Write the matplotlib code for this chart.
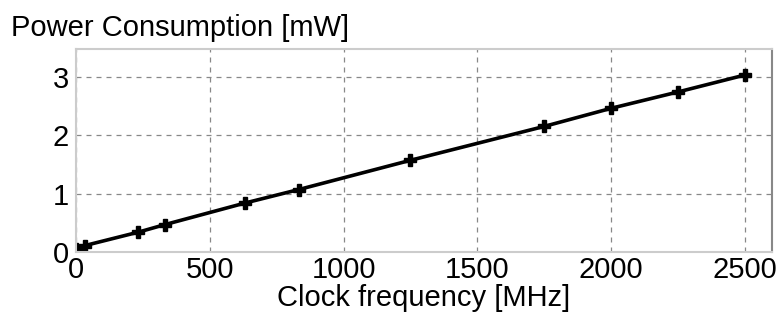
import matplotlib.pyplot as plt
import numpy as np

plt.rcParams['font.family'] = ['Liberation Sans', 'DejaVu Sans']

# clock frequency [MHz] and power consumption [mW]
freq = [0, 33, 233, 333, 633, 833, 1250, 1750, 2000, 2250, 2500]
power = [0.06, 0.11, 0.34, 0.47, 0.84, 1.07, 1.57, 2.15, 2.46, 2.74, 3.03]

fig = plt.figure(figsize=(7.82, 3.25), dpi=100)
ax = fig.add_axes([0.0972, 0.2246, 0.8896, 0.6237])

ax.plot(freq, power, color='black', linewidth=2.6, marker='P', markersize=8)

ax.set_xlim(0, 2600)
ax.set_ylim(0, 3.47)
ax.set_xticks([0, 500, 1000, 1500, 2000, 2500])
ax.set_yticks([0, 1, 2, 3])
ax.grid(True, linestyle=(0, (4, 4)), color='#888888', linewidth=0.9)
ax.tick_params(length=0, labelsize=21, colors='black')
ax.tick_params(axis='x', pad=3)
ax.tick_params(axis='y', pad=5)

for side in ['top', 'left', 'bottom']:
    ax.spines[side].set_color('#cccccc')
    ax.spines[side].set_linewidth(1.5)
ax.spines['right'].set_color('#888888')
ax.spines['right'].set_linewidth(1.5)

ax.set_xlabel('Clock frequency [MHz]', fontsize=21, labelpad=0)
fig.text(0.014, 0.915, 'Power Consumption [mW]', fontsize=21, va='center', ha='left')

fig.savefig('out.png', dpi=100)
